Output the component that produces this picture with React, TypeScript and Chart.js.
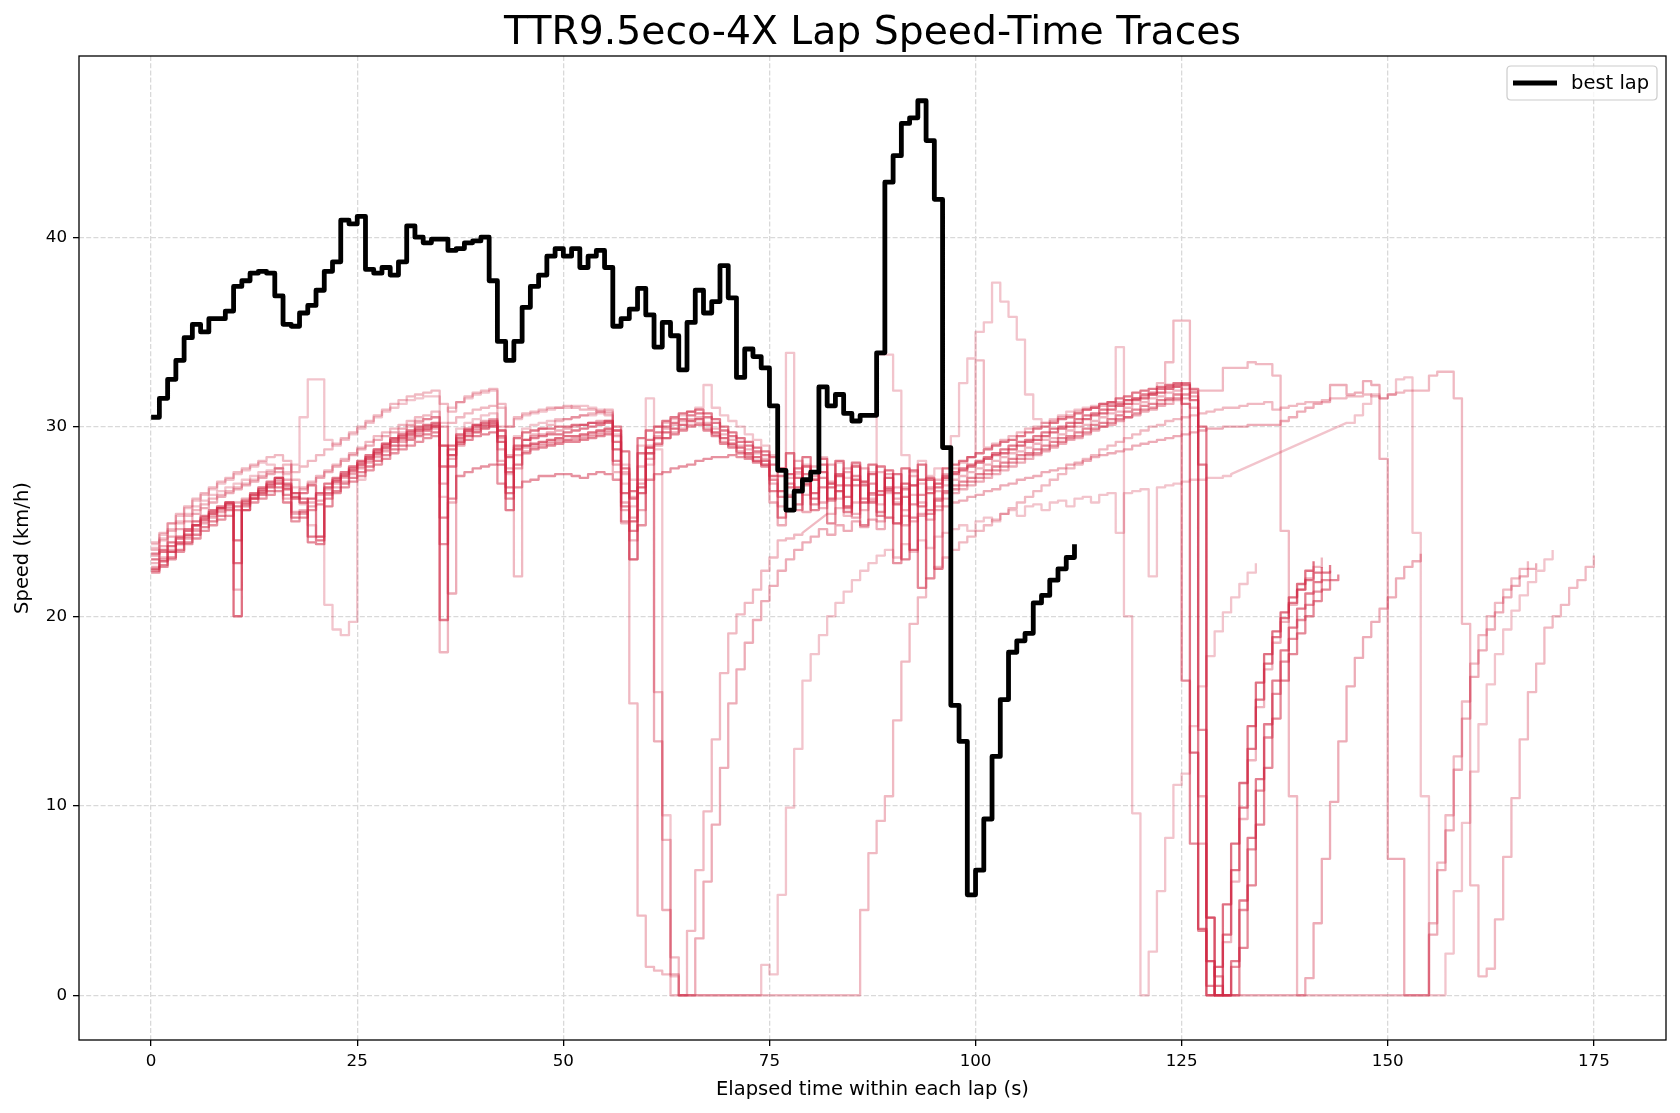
import React, { useEffect, useRef } from "react";
import { Chart, registerables } from "chart.js";

Chart.register(...registerables);

// ---------------- text & axes ----------------
const TITLE = "TTR9.5eco-4X Lap Speed-Time Traces";
const X_LABEL = "Elapsed time within each lap (s)";
const Y_LABEL = "Speed (km/h)";
const LEGEND_LABEL = "best lap";
const X_TICKS = [0, 25, 50, 75, 100, 125, 150, 175];
const Y_TICKS = [0, 10, 20, 30, 40];
const X_MIN = -8.75;
const X_MAX = 183.75;
const Y_MIN = -2.36;
const Y_MAX = 49.56;

// ---------------- data: speed (km/h) sampled every 1 s from lap start ----------------
const BEST_LAP = [
  30.5, 31.5, 32.5, 33.5, 34.7, 35.4, 35.0, 35.7, 35.7, 36.1,
  37.4, 37.7, 38.1, 38.2, 38.1, 36.9, 35.4, 35.3, 36.0, 36.4,
  37.2, 38.2, 38.7, 40.9, 40.7, 41.1, 38.3, 38.1, 38.4, 38.0,
  38.7, 40.6, 40.0, 39.7, 39.9, 39.9, 39.3, 39.4, 39.7, 39.8,
  40.0, 37.7, 34.5, 33.5, 34.5, 36.3, 37.4, 38.0, 39.0, 39.4,
  39.0, 39.4, 38.4, 39.0, 39.3, 38.4, 35.3, 35.7, 36.2, 37.3,
  35.9, 34.2, 35.5, 34.8, 33.0, 35.5, 37.2, 36.0, 36.6, 38.5,
  36.8, 32.6, 34.1, 33.7, 33.1, 31.1, 27.7, 25.6, 26.6, 27.2,
  27.6, 32.1, 31.1, 31.7, 30.7, 30.3, 30.6, 30.6, 33.9, 42.9,
  44.3, 46.0, 46.3, 47.2, 45.1, 42.0, 28.9, 15.3, 13.4, 5.3,
  6.6, 9.3, 12.6, 15.6, 18.1, 18.7, 19.1, 20.7, 21.1, 21.9,
  22.5, 23.1, 23.8,
];

const LAP_A1 = [
  22.5, 22.9, 23.4, 23.9, 24.3, 24.8, 25.1, 25.4, 25.7, 25.9,
  20.0, 25.6, 26.2, 26.5, 26.8, 27.0, 26.7, 26.3, 26.0, 26.2,
  26.5, 26.8, 27.1, 27.4, 27.7, 28.0, 28.3, 28.6, 28.9, 29.2,
  29.4, 29.6, 29.8, 29.9, 30.0, 29.0, 28.5, 29.2, 29.5, 29.7,
  29.9, 30.0, 29.2, 28.4, 28.8, 29.0, 29.1, 29.2, 29.3, 29.4,
  29.5, 29.5, 29.6, 29.7, 29.8, 29.9, 28.8, 26.5, 25.0, 26.8,
  28.9, 29.4, 29.7, 29.9, 30.1, 30.3, 30.4, 30.1, 29.7, 29.4,
  29.1, 28.9, 28.6, 28.4, 28.2, 27.4, 26.6, 27.5, 26.8, 27.9,
  26.5, 27.6, 26.2, 27.4, 25.8, 27.2, 26.0, 27.5, 26.4, 27.3,
  25.9, 27.0, 23.5, 27.2, 26.5, 27.0, 27.3, 27.5, 27.7, 27.9,
  28.1, 28.3, 28.5, 28.6, 28.8, 29.0, 29.2, 29.3, 29.5, 29.7,
  29.9, 30.0, 30.2, 30.4, 30.6, 30.7, 30.9, 31.1, 31.2, 31.4,
  31.5, 31.7, 31.8, 32.0, 32.1, 31.2, 12.8, 3.5, 0.0, 1.5,
  4.8, 8.0, 11.2, 14.2, 16.5, 18.0, 19.2, 20.2, 21.0, 21.7, 22.4, 22.9,
];

const LAP_A2 = [
  22.8, 23.1, 23.5, 23.8, 24.2, 24.6, 25.0, 25.3, 25.6, 25.8,
  21.4, 25.6, 26.3, 26.6, 26.9, 27.2, 26.2, 25.4, 25.6, 26.0,
  26.4, 26.7, 27.0, 27.3, 27.6, 27.9, 28.2, 28.5, 28.8, 29.0,
  29.3, 29.5, 29.7, 29.8, 29.9, 18.1, 26.0, 29.3, 29.6, 29.8,
  30.0, 30.1, 28.2, 25.6, 28.5, 28.9, 29.0, 29.1, 29.2, 29.3,
  29.3, 29.4, 29.5, 29.6, 29.7, 29.8, 27.6, 24.9, 24.0, 27.9,
  29.0, 29.5, 29.9, 30.1, 30.3, 30.4, 30.5, 30.2, 29.9, 29.6,
  29.3, 29.0, 28.8, 28.6, 28.3, 27.0, 25.8, 27.3, 28.2, 26.4,
  27.9, 25.7, 27.1, 26.2, 27.8, 25.4, 27.0, 26.1, 27.6, 25.2,
  26.8, 25.6, 27.4, 26.0, 22.0, 26.6, 26.9, 27.2, 27.4, 27.6,
  27.8, 28.0, 28.2, 28.4, 28.6, 28.7, 28.9, 29.1, 29.3, 29.4,
  29.6, 29.8, 30.0, 30.1, 30.3, 30.5, 30.7, 30.8, 31.0, 31.2,
  31.3, 31.5, 31.6, 31.8, 31.9, 32.0, 31.0, 10.5, 1.8, 0.0,
  2.8, 6.0, 9.3, 12.4, 15.2, 17.2, 18.6, 19.7, 20.6, 21.4, 22.0, 22.6, 23.1,
];

const LAP_A3 = [
  23.3, 23.5, 23.9, 24.2, 24.6, 25.0, 25.3, 25.6, 25.8, 26.0,
  22.8, 25.9, 26.4, 26.7, 27.0, 27.3, 26.9, 26.5, 26.2, 24.2,
  24.0, 26.5, 27.2, 27.5, 27.8, 28.1, 28.4, 28.7, 29.0, 29.3,
  29.5, 29.7, 29.9, 30.0, 30.1, 19.8, 27.9, 29.4, 29.8, 30.0,
  30.1, 30.2, 29.5, 26.5, 29.0, 29.3, 29.4, 29.5, 29.6, 29.6,
  29.7, 29.8, 29.9, 30.0, 30.1, 30.2, 29.2, 27.8, 26.2, 28.6,
  29.3, 29.7, 30.0, 30.2, 30.4, 30.6, 30.7, 30.5, 30.2, 29.8,
  29.5, 29.2, 29.0, 28.7, 28.5, 28.0, 27.4, 26.3, 27.8, 27.0,
  26.2, 28.0, 26.8, 27.5, 26.3, 28.1, 26.9, 26.0, 27.9, 26.7,
  27.5, 23.0, 27.7, 25.8, 27.3, 26.8, 27.4, 27.6, 27.8, 28.0,
  28.2, 28.4, 28.6, 28.8, 29.0, 29.2, 29.3, 29.5, 29.7, 29.9,
  30.0, 30.2, 30.4, 30.6, 30.7, 30.9, 31.1, 31.2, 31.4, 31.5,
  31.7, 31.8, 32.0, 32.1, 32.2, 32.3, 32.0, 28.0, 4.1, 0.0,
  0.0, 1.8, 5.0, 8.3, 11.4, 14.3, 16.6, 18.2, 19.4, 20.4, 21.2, 21.8, 22.3, 22.7,
];

const LAP_A4 = [
  22.4, 22.7, 23.1, 23.5, 23.9, 24.3, 24.7, 25.0, 25.3, 25.6,
  25.8, 26.0, 26.2, 26.4, 26.6, 26.8, 26.0, 25.2, 25.5, 23.9,
  23.8, 25.8, 26.6, 27.0, 27.3, 27.6, 27.9, 28.2, 28.5, 28.8,
  29.0, 29.3, 29.5, 29.6, 29.7, 25.2, 28.8, 29.1, 29.3, 29.5,
  29.6, 29.7, 28.0, 26.8, 28.0, 28.6, 28.8, 28.9, 29.0, 29.1,
  29.2, 29.2, 29.3, 29.4, 29.5, 29.6, 28.2, 25.8, 24.5, 26.5,
  28.6, 29.1, 29.4, 29.6, 29.8, 30.0, 30.1, 29.8, 29.5, 29.1,
  28.9, 28.6, 28.4, 28.1, 27.9, 26.6, 25.2, 26.8, 25.9, 27.5,
  25.6, 26.8, 24.9, 26.6, 25.5, 26.9, 24.8, 26.5, 25.3, 26.8,
  24.9, 26.3, 25.2, 21.5, 25.6, 26.1, 26.6, 26.9, 27.1, 27.3,
  27.5, 27.7, 27.9, 28.1, 28.3, 28.5, 28.6, 28.8, 29.0, 29.2,
  29.4, 29.5, 29.7, 29.9, 30.1, 30.2, 30.4, 30.6, 30.8, 30.9,
  31.1, 31.2, 31.4, 31.5, 31.7, 16.6, 8.0, 3.4, 0.5, 0.5,
  0.0, 0.0, 2.5, 5.8, 9.0, 12.0, 14.6, 16.6, 18.0, 19.1, 20.0, 20.8, 21.4, 21.9, 22.2,
];

const LAP_A5 = [
  23.0, 23.4, 23.7, 24.1, 24.5, 24.8, 25.2, 25.5, 25.7, 26.0,
  24.0, 26.1, 26.5, 26.8, 27.1, 27.3, 27.0, 26.2, 26.5, 26.9,
  24.2, 27.0, 27.3, 27.6, 27.9, 28.2, 28.5, 28.8, 29.1, 29.4,
  29.6, 29.8, 30.0, 30.1, 30.2, 27.9, 29.0, 29.6, 29.9, 30.1,
  30.2, 30.3, 29.8, 27.6, 29.4, 29.7, 29.8, 29.9, 29.9, 30.0,
  30.0, 30.1, 30.1, 30.2, 30.2, 30.3, 29.8, 28.7, 26.6, 29.4,
  29.8, 30.0, 30.3, 30.5, 30.7, 30.8, 30.9, 30.7, 30.4, 30.0,
  29.7, 29.4, 29.2, 28.9, 28.7, 28.4, 27.8, 28.6, 27.3, 28.4,
  27.2, 28.3, 27.0, 28.2, 26.9, 27.9, 27.1, 28.0, 26.6, 27.7,
  26.5, 27.8, 26.9, 28.0, 27.2, 22.5, 27.8, 28.0, 28.2, 28.4,
  28.6, 28.8, 29.0, 29.2, 29.3, 29.5, 29.7, 29.9, 30.0, 30.2,
  30.4, 30.5, 30.7, 30.9, 31.0, 31.2, 31.3, 31.5, 31.6, 31.8,
  31.9, 32.0, 32.1, 32.2, 32.3, 32.2, 31.4, 30.0, 1.8, 0.0,
  3.2, 6.6, 9.9, 13.0, 15.6, 17.5, 18.9, 19.9, 20.7, 21.4, 21.9, 22.3, 22.6,
];

const LAP_A6 = [
  22.3, 22.6, 23.0, 23.4, 23.8, 24.1, 24.5, 24.8, 25.1, 25.3,
  25.6, 25.8, 26.0, 26.2, 26.4, 26.6, 26.4, 25.0, 25.2, 25.6,
  25.9, 26.2, 26.5, 26.8, 27.1, 27.4, 27.7, 28.0, 28.3, 28.6,
  28.8, 29.0, 29.2, 29.4, 29.5, 23.8, 26.2, 27.4, 27.6, 27.8,
  27.9, 28.0, 27.0, 26.2, 26.8, 27.1, 27.2, 27.4, 27.4, 27.5,
  27.5, 27.4, 27.3, 27.5, 27.6, 27.5, 27.2, 25.0, 23.0, 24.8,
  27.2, 27.5, 27.6, 27.8, 27.9, 28.0, 28.2, 28.3, 28.4, 28.4,
  28.5, 28.4, 28.3, 28.2, 28.0, 27.2, 26.3, 27.0, 25.6, 26.9,
  25.9, 27.3, 26.1, 26.9, 25.7, 27.4, 26.2, 27.0, 25.5, 26.6,
  22.8, 26.7, 25.9, 26.4, 25.4, 26.2, 26.5, 26.7, 26.9, 27.1,
  27.3, 27.5, 27.7, 27.9, 28.1, 28.3, 28.5, 28.6, 28.8, 29.0,
  29.2, 29.4, 29.5, 29.7, 29.9, 30.0, 30.2, 30.4, 30.5, 30.7,
  30.9, 31.0, 31.2, 31.4, 31.5, 31.7, 31.8, 14.0, 4.1, 1.0,
  0.0, 1.5, 4.5, 7.7, 10.8, 13.6, 15.9, 17.6, 18.8, 19.8, 20.6, 21.3, 21.9, 22.4,
];

const LAP_A7 = [
  22.6, 23.0, 23.4, 23.8, 24.1, 24.5, 24.9, 25.2, 25.5, 25.7,
  26.0, 26.2, 26.4, 26.6, 26.9, 27.1, 26.8, 25.5, 25.4, 25.8,
  26.1, 26.4, 26.8, 27.1, 27.5, 27.8, 28.1, 28.4, 28.7, 29.0,
  29.2, 29.4, 29.6, 29.8, 30.0, 27.0, 28.3, 29.5, 29.7, 29.9,
  30.0, 30.1, 28.8, 25.6, 27.8, 28.7, 28.9, 29.0, 29.1, 29.2,
  29.3, 29.3, 29.4, 29.5, 29.6, 29.7, 28.0, 25.6, 23.0, 25.6,
  28.3, 29.0, 29.4, 29.7, 29.9, 30.1, 30.2, 29.9, 29.6, 29.2,
  29.0, 28.7, 28.5, 28.2, 28.0, 26.0, 24.8, 26.4, 27.6, 25.5,
  27.4, 26.0, 28.0, 26.6, 27.6, 25.2, 27.8, 26.4, 25.0, 27.5,
  26.2, 24.8, 26.9, 25.3, 26.8, 25.8, 26.2, 26.5, 26.7, 26.9,
  27.1, 27.3, 27.5, 27.7, 27.9, 28.1, 28.3, 28.5, 28.7, 28.9,
  29.1, 29.3, 29.4, 29.6, 29.8, 30.0, 30.1, 30.3, 30.5, 30.6,
  30.8, 30.9, 31.1, 31.2, 31.4, 31.5, 31.6, 8.0, 0.0, 0.0,
  0.0, 0.0, 0.0, 0.0, 0.0, 0.0, 0.0, 0.0, 0.0, 0.0,
  0.9, 3.8, 7.2, 10.2, 13.4, 16.3, 17.8, 18.9, 19.7, 20.4,
  21.0, 22.0, 22.6, 22.9, 23.3,
];

const LAP_C1 = [
  23.8, 24.3, 24.9, 25.3, 25.7, 26.1, 26.4, 26.7, 27.0, 27.2,
  27.5, 27.7, 27.9, 28.1, 28.0, 27.8, 27.6, 28.0, 30.5, 32.5,
  32.5, 29.3, 29.0, 29.3, 29.6, 29.9, 30.2, 30.5, 30.8, 31.0,
  31.2, 31.4, 31.5, 31.6, 31.6, 30.2, 31.0, 31.3, 31.5, 31.7,
  31.8, 31.9, 31.0, 30.0, 30.4, 30.6, 30.7, 30.8, 30.9, 31.0,
  31.0, 31.1, 31.1, 31.0, 30.9, 30.8, 29.6, 28.0, 27.2, 29.0,
  31.5, 30.0, 30.2, 30.4, 30.6, 30.8, 31.0, 32.2, 31.0, 30.6,
  30.3, 30.0, 29.6, 29.3, 29.0, 28.5, 27.8, 33.9, 27.5, 28.0,
  27.2, 28.4, 27.0, 28.1, 27.3, 28.0, 27.1, 27.6, 33.8, 33.8,
  31.9, 28.5, 27.6, 28.2, 27.4, 27.8, 27.2, 29.5, 32.3, 33.6,
  35.0, 35.5, 37.6, 36.6, 35.8, 34.6, 31.7, 30.4, 30.2, 30.4,
  30.6, 30.8, 30.9, 31.0, 31.1, 31.2, 31.3, 34.2, 20.0, 9.6,
  0.0, 2.3, 5.5, 8.3, 11.1, 11.7, 14.2, 16.3, 17.9, 19.2,
  20.2, 21.0, 21.7, 22.3, 22.8,
];

const LAP_P = [
  23.5, 24.0, 24.5, 24.9, 25.3, 25.6, 25.9, 26.2, 26.4, 26.6,
  26.8, 27.0, 27.2, 27.4, 27.6, 27.8, 28.0, 27.2, 26.8, 27.1,
  27.4, 27.7, 28.0, 28.3, 28.6, 28.9, 29.2, 29.5, 29.7, 29.9,
  30.1, 30.3, 30.5, 30.6, 30.8, 29.0, 30.2, 30.5, 30.7, 30.9,
  31.0, 31.1, 30.0, 28.5, 22.1, 29.0, 29.6, 29.9, 30.1, 30.3,
  30.4, 30.5, 30.6, 30.7, 30.8, 30.9, 30.0, 27.5, 15.4, 4.2,
  1.5, 1.3, 1.1, 0.0, 0.0, 3.4, 6.6, 9.7, 13.5, 17.0,
  19.1, 20.1, 20.7, 21.4, 22.4, 23.1, 24.0, 24.1, 24.3, 24.4,
  null, null, 25.4, 25.7, 25.3, 26.0, 25.6, 26.2, 25.9, 26.5,
  26.0, 26.8, 26.4, 27.0, 26.7, 27.2, 27.5, 27.8, 28.1, 28.4,
  33.5, 28.9, 29.1, 29.3, 29.5, 29.7, 29.9, 30.0, 30.2, 30.3,
  30.5, 30.6, 30.8, 30.9, 31.0, 31.1, 31.2, 31.3, 31.4, 31.5,
  31.6, 31.7, 32.3, 33.4, 35.6, 35.6, 31.9, 31.9, 31.9, 31.9,
  33.1, 33.1, 33.1, 33.4, 33.3, 33.3, 32.7, 24.5, 10.5, 0.0,
  0.0, 0.0, 0.0, 0.0, 0.0, 0.0, 0.0, 0.0, 0.0, 0.0,
  0.0, 0.0, 0.0, 0.0, 0.0, 3.8, 7.0, 9.5, 12.6, 15.5,
  17.5, 19.0, 20.0, 20.7, 21.4, 22.0, 22.5, 22.9,
];

const LAP_Q1 = [
  23.2, 23.7, 24.2, 24.6, 25.0, 25.4, 25.7, 26.0, 26.3, 26.5,
  26.7, 26.9, 27.1, 27.3, 27.5, 27.6, 27.2, 26.5, 26.7, 27.0,
  27.3, 27.6, 27.9, 28.2, 28.5, 28.8, 29.0, 29.3, 29.5, 29.7,
  29.9, 30.1, 30.3, 30.4, 30.5, 30.0, 21.2, 29.0, 29.8, 30.1,
  30.3, 30.4, 29.4, 27.8, 28.9, 29.3, 29.5, 29.6, 29.7, 29.8,
  29.9, 30.0, 30.1, 30.2, 30.3, 30.3, 29.5, 26.0, 25.2, 27.0,
  28.6, 13.4, 4.5, 1.1, 0.0, 0.0, 3.0, 6.0, 9.0, 12.0,
  15.4, 17.2, 18.6, 19.8, 20.8, 21.6, 22.4, 23.0, 23.5, 23.9,
  24.2, 24.6, 24.3, 24.8, 24.5, 25.0, 24.7, 25.1, 24.6, 25.2,
  24.9, 25.3, 25.0, 25.4, 25.1, 25.6, 25.8, 26.0, 26.1, 26.3,
  26.4, 26.6, 26.7, 26.9, 27.0, 27.2, 27.3, 27.4, 27.6, 27.7,
  27.8, 28.0, 28.1, 28.2, 28.4, 28.5, 28.6, 28.7, 28.8, 29.0,
  29.1, 29.2, 29.3, 29.4, 29.5, 29.6, 29.7, 29.8, 29.9, 29.9,
  30.0, 30.0, 30.0, 30.1, 30.1, 30.1, 30.1, 30.3, 30.5, 30.8,
  31.0, 31.2, 31.3, 32.2, 32.2, 31.7, 31.8, 32.4, 32.2, 28.3,
  7.2, 7.2, 0.0, 0.0, 0.0, 3.2, 6.6, 8.7, 11.9, 14.6,
  16.8, 18.2, 19.3, 20.2, 21.0, 21.6, 22.1, 22.5, 22.8,
];

const LAP_Q2 = [
  23.6, 24.1, 24.6, 25.0, 25.4, 25.8, 26.1, 26.4, 26.6, 26.8,
  27.0, 27.2, 27.4, 27.6, 27.7, 27.8, 27.5, 26.8, 25.9, 24.8,
  24.2, 20.6, 19.3, 19.0, 19.7, 27.2, 28.4, 28.8, 29.1, 29.4,
  29.7, 30.0, 30.2, 30.4, 30.5, 26.3, 28.5, 29.9, 30.2, 30.4,
  30.6, 30.7, 29.8, 27.5, 29.5, 29.9, 30.1, 30.2, 30.3, 30.4,
  30.4, 30.5, 30.6, 30.6, 30.7, 30.7, 29.8, 27.0, 25.8, 26.5,
  28.0, 28.8, 9.5, 1.0, 0.0, 0.0, 0.0, 0.0, 0.0, 0.0,
  0.0, 0.0, 0.0, 0.0, 1.6, 1.1, 5.3, 9.9, 13.0, 16.6,
  18.0, 19.0, 20.0, 20.7, 21.3, 21.9, 22.4, 22.8, 23.2, 23.5,
  23.1, 23.8, 23.4, 24.0, 23.6, 24.2, 24.4, 24.6, 24.8, 24.5,
  25.0, 25.2, 25.0, 25.4, 25.6, 25.3, 25.8, 25.9, 25.6, 26.0,
  26.1, 25.8, 26.2, 26.3, 26.0, 26.4, 26.5, 24.4, 26.5, 26.6,
  26.7, 22.1, 26.8, 26.9, 27.0, 27.1, 27.2, 27.2, 27.3, 27.3,
  27.4, 27.5, null, null, null, null, null, null, null, null,
  null, null, null, null, null, 30.2, 30.6, 31.2, 31.7, 31.5,
  31.7, 32.5, 32.6, 24.4, 10.5, 0.0, 0.0, 2.2, 5.5, 9.1,
  11.8, 14.3, 16.4, 18.0, 19.3, 20.3, 21.1, 21.8, 22.4, 23.0, 23.5,
];

const LAP_Q3 = [
  23.9, 24.4, 24.9, 25.4, 25.8, 26.2, 26.5, 26.8, 27.1, 27.3,
  27.6, 27.8, 28.0, 28.2, 28.4, 28.5, 28.2, 27.6, 27.9, 28.2,
  28.5, 28.8, 29.1, 29.4, 29.7, 30.0, 30.3, 30.6, 30.9, 31.2,
  31.4, 31.6, 31.7, 31.8, 31.9, 31.2, 30.8, 31.3, 31.6, 31.8,
  31.9, 32.0, 31.2, 30.0, 30.5, 30.7, 30.8, 30.9, 31.0, 31.0,
  31.1, 31.0, 30.9, 30.9, 30.8, 30.6, 30.0, 27.6, 26.3, 27.2,
  28.9, 16.0, 8.2, 2.0, 0.0, 0.0, 0.0, 0.0, 0.0, 0.0,
  0.0, 0.0, 0.0, 0.0, 0.0, 0.0, 0.0, 0.0, 0.0, 0.0,
  0.0, 0.0, 0.0, 0.0, 0.0, 0.0, 4.5, 7.5, 9.2, 10.5,
  14.5, 17.6, 19.6, 21.0, 22.0, 22.6, 23.1, 23.5, 23.9, 24.2,
  24.5, 24.8, 25.1, 25.4, 25.7, 26.0, 26.3, 26.6, 26.9, 27.2,
  27.5, 27.8, 28.0, 28.3, 28.5, 28.8, 29.0, 29.2, 29.4, 29.6,
  29.8, 30.0, 30.1, 30.3, 30.4, 30.5, 30.6, 30.7, 30.8, 30.9,
  31.0, 31.0, 31.1, 31.2, 31.2, 31.3, 30.9, 31.0, 31.1, 31.2,
  31.3, 31.3, 31.4, 31.5, 31.5, 31.6, 31.6, 31.7, 31.6, 31.5,
  31.7, 31.8, 31.9, 31.9, 31.9, 32.7, 32.9, 32.9, 31.5, 19.6,
  5.8, 1.0, 1.4, 4.0, 7.3, 10.4, 13.5, 16.0, 17.5, 19.4,
  20.0, 20.6, 21.5, 21.9, 22.6, 23.2,
];

const RED_LAPS = [
  LAP_A1, LAP_A2, LAP_A3, LAP_A4, LAP_A5, LAP_A6, LAP_A7,
  LAP_C1, LAP_P, LAP_Q1, LAP_Q2, LAP_Q3,
];
const RED_ALPHAS = [0.66, 0.34, 0.6, 0.55, 0.62, 0.5, 0.38, 0.27, 0.32, 0.38, 0.27, 0.32];

// ---------------- helpers ----------------
type Pt = { x: number; y: number };

// Convert per-second samples into a step (hold) polyline; null marks missing samples.
function stepPoints(values: (number | null)[]): Pt[] {
  const pts: Pt[] = [];
  for (let k = 0; k < values.length; k++) {
    const v = values[k];
    if (v === null || v === undefined) continue;
    pts.push({ x: k, y: v });
    const next = values[k + 1];
    if (k < values.length - 1 && next !== null && next !== undefined) {
      pts.push({ x: k + 1, y: v });
    }
  }
  return pts;
}

const FONT = '"DejaVu Sans", "Liberation Sans", sans-serif';

const decorPlugin = {
  id: "decor",
  beforeDraw(chart: any) {
    const { ctx, width, height } = chart;
    ctx.save();
    ctx.fillStyle = "#ffffff";
    ctx.fillRect(0, 0, width, height);
    ctx.restore();
  },
  afterDraw(chart: any) {
    const { ctx, chartArea: a } = chart;
    ctx.save();
    // frame (all four spines)
    ctx.strokeStyle = "#000000";
    ctx.lineWidth = 1.3;
    ctx.strokeRect(a.left, a.top, a.right - a.left, a.bottom - a.top);

    // title and axis labels
    ctx.fillStyle = "#000000";
    ctx.textAlign = "center";
    ctx.textBaseline = "middle";
    ctx.font = `39.3px ${FONT}`;
    ctx.fillText(TITLE, (a.left + a.right) / 2, a.top - 22);
    ctx.font = `19.5px ${FONT}`;
    ctx.fillText(X_LABEL, (a.left + a.right) / 2, a.bottom + 50);
    ctx.save();
    ctx.translate(a.left - 56, (a.top + a.bottom) / 2);
    ctx.rotate(-Math.PI / 2);
    ctx.fillText(Y_LABEL, 0, 0);
    ctx.restore();

    // legend box (upper right)
    const bw = 150;
    const bh = 34;
    const bx = a.right - 9 - bw;
    const by = a.top + 10;
    const r = 4;
    ctx.beginPath();
    ctx.moveTo(bx + r, by);
    ctx.lineTo(bx + bw - r, by);
    ctx.quadraticCurveTo(bx + bw, by, bx + bw, by + r);
    ctx.lineTo(bx + bw, by + bh - r);
    ctx.quadraticCurveTo(bx + bw, by + bh, bx + bw - r, by + bh);
    ctx.lineTo(bx + r, by + bh);
    ctx.quadraticCurveTo(bx, by + bh, bx, by + bh - r);
    ctx.lineTo(bx, by + r);
    ctx.quadraticCurveTo(bx, by, bx + r, by);
    ctx.closePath();
    ctx.fillStyle = "rgba(255,255,255,0.8)";
    ctx.fill();
    ctx.strokeStyle = "#cccccc";
    ctx.lineWidth = 1.2;
    ctx.stroke();

    const ly = by + bh / 2;
    ctx.beginPath();
    ctx.moveTo(bx + 6, ly);
    ctx.lineTo(bx + 50, ly);
    ctx.strokeStyle = "#000000";
    ctx.lineWidth = 4.8;
    ctx.stroke();

    ctx.fillStyle = "#000000";
    ctx.font = `19.5px ${FONT}`;
    ctx.textAlign = "left";
    ctx.textBaseline = "middle";
    ctx.fillText(LEGEND_LABEL, bx + 64, ly + 1);
    ctx.restore();
  },
};

export default function App() {
  const canvasRef = useRef<HTMLCanvasElement | null>(null);

  useEffect(() => {
    const canvas = canvasRef.current;
    if (!canvas) return;

    const datasets: any[] = [
      {
        label: LEGEND_LABEL,
        data: stepPoints(BEST_LAP),
        borderColor: "#000000",
        borderWidth: 4.8,
        pointRadius: 0,
        borderJoinStyle: "round",
        order: 0,
      },
      ...RED_LAPS.map((lap, i) => ({
        label: `lap ${i + 1}`,
        data: stepPoints(lap),
        borderColor: `rgba(208, 38, 66, ${RED_ALPHAS[i]})`,
        borderWidth: 2.3,
        pointRadius: 0,
        borderJoinStyle: "round",
        order: 1,
      })),
    ];

    const tickFont = { family: FONT, size: 16.7 };
    const gridOpts = {
      color: "#d9d9d9",
      lineWidth: 1.3,
      drawTicks: true,
      tickLength: 6,
      tickColor: "#000000",
      tickWidth: 1.3,
    };

    const chart = new Chart(canvas, {
      type: "line",
      data: { datasets },
      plugins: [decorPlugin],
      options: {
        responsive: false,
        animation: false,
        events: [],
        parsing: false,
        layout: { padding: { top: 56, right: 14, left: 0, bottom: 0 } },
        plugins: {
          legend: { display: false },
          tooltip: { enabled: false },
          title: { display: false },
        },
        scales: {
          x: {
            type: "linear",
            min: X_MIN,
            max: X_MAX,
            afterBuildTicks: (s: any) => {
              s.ticks = X_TICKS.map((v) => ({ value: v }));
            },
            afterFit: (s: any) => {
              s.height = 73;
            },
            grid: gridOpts,
            border: { display: false, dash: [5, 2.2] },
            ticks: {
              color: "#000000",
              font: tickFont,
              padding: 6,
              maxRotation: 0,
              autoSkip: false,
              callback: (v: any) => String(v),
            },
          },
          y: {
            type: "linear",
            min: Y_MIN,
            max: Y_MAX,
            afterBuildTicks: (s: any) => {
              s.ticks = Y_TICKS.map((v) => ({ value: v }));
            },
            afterFit: (s: any) => {
              s.width = 79;
            },
            grid: gridOpts,
            border: { display: false, dash: [5, 2.2] },
            ticks: {
              color: "#000000",
              font: tickFont,
              padding: 6,
              autoSkip: false,
              callback: (v: any) => String(v),
            },
          },
        },
      } as any,
    });

    return () => chart.destroy();
  }, []);

  return (
    <div
      style={{
        position: "fixed",
        left: 0,
        top: 0,
        width: 1680,
        height: 1113,
        background: "#ffffff",
      }}
    >
      <canvas ref={canvasRef} width={1680} height={1113} style={{ width: 1680, height: 1113, display: "block" }} />
    </div>
  );
}
